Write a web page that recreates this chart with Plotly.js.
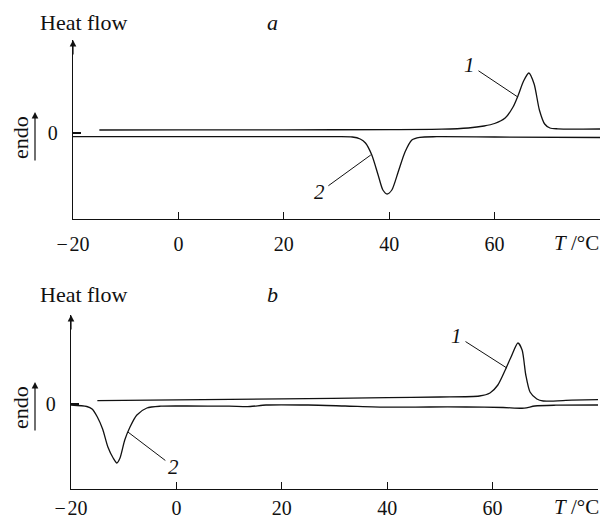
<!DOCTYPE html>
<html>
<head>
<meta charset="utf-8">
<script src="https://cdn.plot.ly/plotly-3.0.1.min.js"></script>
<style>
  html, body { margin: 0; padding: 0; background: #fff; }
  #chart { width: 601px; height: 519px; }
</style>
</head>
<body>
<div id="chart"></div>
<script>
// DSC heating curves, temperature in °C, heat flow in arbitrary units (endo up)
// Panel a
const tempA1 = [-15, 0, 20, 40, 50, 55, 58, 60, 62, 63.5, 64.5, 65.5, 66.5, 67.5, 68.5, 69.5, 70.5, 72, 80];
const flowA1 = [0.30, 0.31, 0.32, 0.34, 0.38, 0.5, 0.7, 0.95, 1.5, 2.6, 3.8, 5.2, 6.0, 4.9, 2.3, 0.9, 0.5, 0.42, 0.40];
const tempA2 = [-20, 0, 20, 30, 33, 34.5, 35.5, 36.7, 37.9, 38.8, 39.6, 40.5, 41.7, 43, 44.3, 45.8, 49, 60, 80];
const flowA2 = [-0.37, -0.37, -0.37, -0.37, -0.4, -0.6, -1.0, -2.2, -4.2, -5.7, -6.1, -5.7, -3.9, -1.9, -0.7, -0.43, -0.37, -0.4, -0.45];
// Panel b
const tempB1 = [-15, 0, 20, 40, 50, 57.5, 59.5, 61, 62.4, 63.5, 64.8, 65.6, 66.3, 67.1, 68.4, 69.6, 75, 80];
const flowB1 = [0.33, 0.42, 0.52, 0.63, 0.7, 0.8, 1.1, 1.9, 3.4, 4.7, 6.1, 5.4, 2.9, 1.2, 0.5, 0.3, 0.38, 0.43];
const tempB2 = [-20, -17, -16, -15, -14, -13, -12, -11.3, -10.7, -9.8, -8.8, -7.5, -5.6, -3, 2, 10, 14, 17, 25, 32, 40, 48, 55, 62, 66, 68, 72, 80];
const flowB2 = [-0.1, -0.25, -0.5, -1.3, -2.5, -4.3, -5.4, -5.9, -5.4, -3.6, -2.3, -1.1, -0.4, -0.22, -0.2, -0.22, -0.25, -0.1, -0.1, -0.2, -0.32, -0.3, -0.3, -0.35, -0.42, -0.2, -0.12, -0.1];

// Axis ticks
const tempTicks = [-20, 0, 20, 40, 60, 80];
const tempTickText = ['\u2212\u200A20', '0', '20', '40', '60', ''];
const flowTicks = [0];
const flowTickText = ['0'];

// Curve labels: [panel, curve number, temperature, heat flow, text dx, text dy]
const curveLabels = [
  ['a', '1', 64.4, 3.6, -48, -32],
  ['a', '2', 36.5, -2.2, -51, 37],
  ['b', '1', 62.7, 3.6, -50, -32],
  ['b', '2', -9.2, -2.8, 46, 35]
];

const W = 601, H = 519;
const px = v => v / W;
const py = v => (H - v) / H;
const serif = 'Liberation Serif, Times New Roman, serif';
const ink = '#111';

function curve(x, y, xa, ya) {
  return {
    x: x, y: y, xaxis: xa, yaxis: ya, type: 'scatter', mode: 'lines',
    line: { color: ink, width: 1.3, shape: 'spline', smoothing: 0.7 },
    hoverinfo: 'skip', showlegend: false
  };
}

const data = [
  curve(tempA1, flowA1, 'x', 'y'),
  curve(tempA2, flowA2, 'x', 'y'),
  curve(tempB1, flowB1, 'x2', 'y2'),
  curve(tempB2, flowB2, 'x2', 'y2')
];

function xAxis(domain, anchor, standoff) {
  return {
    domain: domain, anchor: anchor, range: [-20, 80],
    showline: true, linecolor: ink, linewidth: 1.2,
    ticks: 'inside', ticklen: 7, tickwidth: 1.1, tickcolor: ink,
    tickvals: tempTicks, ticktext: tempTickText,
    tickfont: { family: serif, size: 20, color: ink },
    ticklabelstandoff: standoff,
    showgrid: false, zeroline: false, fixedrange: true
  };
}
function yAxis(domain, anchor, range) {
  return {
    domain: domain, anchor: anchor, range: range,
    showline: true, linecolor: ink, linewidth: 1.2,
    ticks: 'inside', ticklen: 8, tickwidth: 1.1, tickcolor: ink,
    tickvals: flowTicks, ticktext: flowTickText,
    tickfont: { family: serif, size: 20, color: ink },
    ticklabelstandoff: 10,
    showgrid: false, zeroline: false, fixedrange: true
  };
}

const annotations = [];
const panels = [
  { name: 'a', xa: 'x', ya: 'y', top: 9.3, titleY: 22, endoY: 138, arrowTop: 112, arrowBot: 162, unitY: 243 },
  { name: 'b', xa: 'x2', ya: 'y2', top: 8.9, titleY: 294, endoY: 408, arrowTop: 382, arrowBot: 432, unitY: 507 }
];
panels.forEach(p => {
  // arrowhead at the top of the heat-flow axis
  annotations.push({
    xref: p.xa, yref: p.ya, x: -20, y: p.top, ax: 0, ay: 16,
    showarrow: true, arrowhead: 2, arrowsize: 1.1, arrowwidth: 1.2, arrowcolor: ink, text: ''
  });
  annotations.push({
    xref: 'paper', yref: 'paper', x: px(84), y: py(p.titleY), xanchor: 'center', yanchor: 'middle',
    text: 'Heat flow', showarrow: false, font: { family: serif, size: 22, color: ink }
  });
  annotations.push({
    xref: 'paper', yref: 'paper', x: px(272), y: py(p.titleY), xanchor: 'center', yanchor: 'middle',
    text: '<i>' + p.name + '</i>', showarrow: false, font: { family: serif, size: 22, color: ink }
  });
  annotations.push({
    xref: 'paper', yref: 'paper', x: px(20), y: py(p.endoY), xanchor: 'center', yanchor: 'middle',
    text: 'endo', textangle: -90, showarrow: false, font: { family: serif, size: 22, color: ink }
  });
  annotations.push({
    xref: 'paper', yref: 'paper', x: px(35), y: py(p.arrowTop), ax: 0, ay: p.arrowBot - p.arrowTop,
    showarrow: true, arrowhead: 2, arrowsize: 1.1, arrowwidth: 1.2, arrowcolor: ink, text: ''
  });
  annotations.push({
    xref: 'paper', yref: 'paper', x: px(601), y: py(p.unitY), xanchor: 'right', yanchor: 'middle',
    text: '<i>T</i> /°C', showarrow: false, font: { family: serif, size: 21, color: ink }
  });
});
curveLabels.forEach(l => {
  const p = panels.find(q => q.name === l[0]);
  annotations.push({
    xref: p.xa, yref: p.ya, x: l[2], y: l[3], ax: l[4], ay: l[5],
    text: '<i>' + l[1] + '</i>', showarrow: true, arrowhead: 0, arrowwidth: 1, arrowcolor: ink,
    standoff: 0, startstandoff: 2,
    font: { family: serif, size: 21, color: ink }
  });
});

const layout = {
  width: W, height: H,
  margin: { l: 0, r: 0, t: 0, b: 0 },
  paper_bgcolor: '#fff', plot_bgcolor: '#fff',
  showlegend: false,
  xaxis: xAxis([px(73), px(600)], 'y', 7),
  yaxis: yAxis([py(219), py(40)], 'x', [-8.6, 9.3]),
  xaxis2: xAxis([px(71), px(598)], 'y2', 1),
  yaxis2: yAxis([py(489), py(315)], 'x2', [-8.5, 8.9]),
  annotations: annotations
};

Plotly.newPlot('chart', data, layout, { staticPlot: true, displayModeBar: false });
</script>
</body>
</html>
